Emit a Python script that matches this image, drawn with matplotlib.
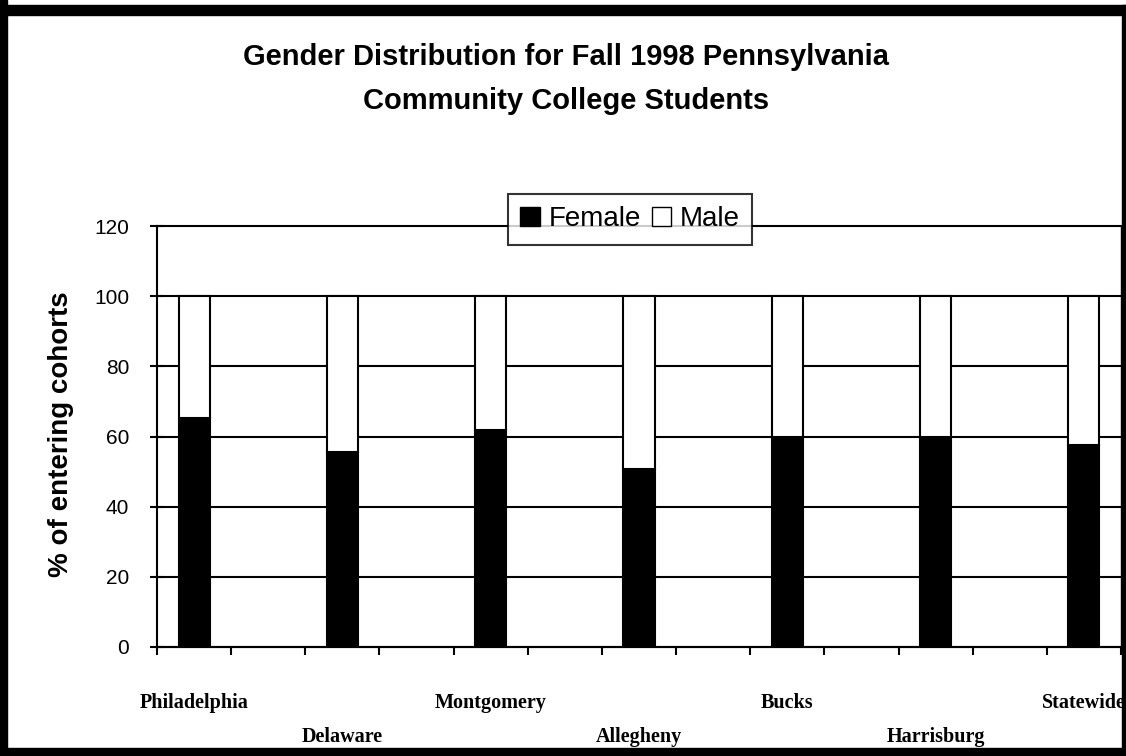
import matplotlib
matplotlib.use("Agg")
import matplotlib.pyplot as plt
from matplotlib.patches import Rectangle, Patch
import matplotlib.transforms as mtransforms

# ---- data ----
categories = ["Philadelphia", "Delaware", "Montgomery", "Allegheny", "Bucks", "Harrisburg", "Statewide"]
female = [65.2, 55.5, 61.8, 50.6, 59.8, 60.0, 57.7]
male = [34.8, 44.5, 38.2, 49.4, 40.2, 40.0, 42.3]
yticks = [0, 20, 40, 60, 80, 100, 120]
title_lines = ["Gender Distribution for Fall 1998 Pennsylvania", "Community College Students"]
ylabel = "% of entering cohorts"

W, H = 1126, 756
fig = plt.figure(figsize=(W / 100, H / 100), dpi=100)
fig.patch.set_facecolor("white")

ax = fig.add_axes([157 / W, 1 - 647 / H, (1121 - 157) / W, (647 - 226) / H])

n_slots = 2 * len(categories) - 1
pos = [2 * i for i in range(len(categories))]
bw = 0.42
ax.bar(pos, female, width=bw, color="black", edgecolor="black", linewidth=1.5, zorder=3, label="Female")
ax.bar(pos, male, width=bw, bottom=female, color="white", edgecolor="black", linewidth=1.5, zorder=3, label="Male")

ax.set_xlim(-0.5, n_slots - 0.5)
ax.set_ylim(0, 120)
ax.set_yticks(yticks)
ax.set_yticklabels([str(v) for v in yticks], fontsize=15, family="Liberation Sans")
ax.yaxis.grid(True, color="black", linewidth=1.5, zorder=1)
for gl in ax.get_ygridlines():
    gl.set_clip_on(False)
ax.set_axisbelow(True)

ax.set_xticks([i - 0.5 for i in range(n_slots + 1)])
ax.set_xticklabels([])
ax.tick_params(axis="x", direction="out", length=6, width=1.5, color="black")
ax.tick_params(axis="y", direction="inout", length=10, width=1.5, color="black", pad=15)

ax.spines["top"].set_visible(False)
ax.spines["right"].set_linewidth(1.0)
ax.spines["left"].set_linewidth(1.5)
ax.spines["bottom"].set_linewidth(1.5)

# staggered category labels
trans = mtransforms.blended_transform_factory(ax.transData, fig.transFigure)
for i, (p, name) in enumerate(zip(pos, categories)):
    ypix = 703 if i % 2 == 0 else 737
    ax.text(p, 1 - ypix / H, name, transform=trans, ha="center", va="center",
            fontsize=14.5, fontweight="bold", family="Liberation Serif", clip_on=False)

ax.set_ylabel(ylabel, fontsize=20, fontweight="bold", family="Liberation Sans")
ax.yaxis.set_label_coords((61 - 157) / (1121 - 157), (647 - 434) / (647 - 226))
ax.yaxis.label.set_va("center")

for txt, ypix in zip(title_lines, [57, 101]):
    fig.text(566 / W, 1 - ypix / H, txt, ha="center", va="center", fontsize=21,
             fontweight="bold", family="Liberation Sans")

handles = [Patch(facecolor="black", edgecolor="black"), Patch(facecolor="white", edgecolor="black")]
leg = ax.legend(handles, ["Female", "Male"], loc="center", bbox_to_anchor=(630 / W, 1 - 219 / H),
                bbox_transform=fig.transFigure, ncol=2, frameon=True, fancybox=False,
                prop={"family": "Liberation Sans", "size": 20}, handlelength=0.7, handleheight=0.7,
                handletextpad=0.3, columnspacing=0.4, borderpad=0.45, borderaxespad=0)
leg.get_frame().set_edgecolor("black")
leg.get_frame().set_linewidth(1.5)
leg.set_zorder(5)

# figure frame
fig.add_artist(Rectangle((0, 0), 7 / W, 1, transform=fig.transFigure, color="black"))
fig.add_artist(Rectangle((0, 1 - 15 / H), 1, 10 / H, transform=fig.transFigure, color="black"))
fig.add_artist(Rectangle((0, 0), 1, 8 / H, transform=fig.transFigure, color="black"))
fig.add_artist(Rectangle((1122 / W, 0), 4 / W, 1 - 5 / H, transform=fig.transFigure, color="black"))

fig.savefig("out.png", dpi=100)
